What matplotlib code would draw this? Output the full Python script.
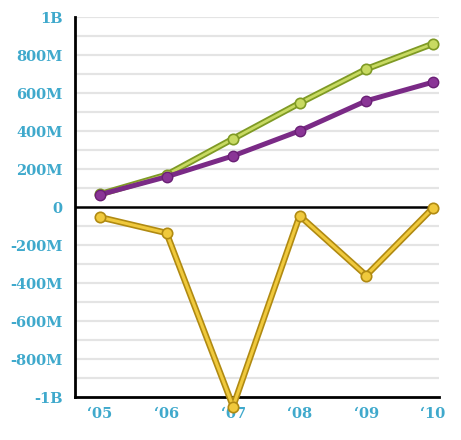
import numpy as np
import matplotlib.pyplot as plt

######### Data (millions) ############
years = [2005, 2006, 2007, 2008, 2009, 2010]
year_labels = ["\u201805", "\u201806", "\u201807", "\u201808", "\u201809", "\u201810"]
green_vals = [68, 170, 360, 548, 727, 860]
purple_vals = [66, 160, 270, 402, 560, 658]
yellow_vals = [-53, -136, -1050, -45, -360, -5]
ytick_vals = [-1000, -800, -600, -400, -200, 0, 200, 400, 600, 800, 1000]
ytick_labels = ["-1B", "-800M", "-600M", "-400M", "-200M", "0",
                "200M", "400M", "600M", "800M", "1B"]
######################################

label_color = "#3fa9cc"

fig = plt.figure(figsize=(4.61, 4.40), dpi=100)
ax = fig.add_axes([0.1627, 0.0977, 0.789, 0.863])
ax.set_xlim(2004.625, 2010.09)
ax.set_ylim(-1000, 1000)

# light gridlines every 100M
for v in np.arange(-900, 1001, 100):
    if v == 0:
        continue
    ax.axhline(v, color="#e4e4e4", lw=1.6, zorder=0)
ax.axhline(0, color="black", lw=1.8, zorder=1)

# green: dark outline with light core
ax.plot(years, green_vals, color="#7f9a25", lw=4.6, solid_capstyle="round", zorder=3)
ax.plot(years, green_vals, color="#c8da62", lw=2.0, zorder=4,
        marker="o", ms=7.5, mfc="#c8da62", mec="#7f9a25", mew=1.2)

# purple
ax.plot(years, purple_vals, color="#7a2a86", lw=3.6, zorder=5,
        marker="o", ms=7.5, mfc="#8a3596", mec="#6a2075", mew=1)

# yellow
ax.plot(years, yellow_vals, color="#b08a12", lw=4.6, zorder=3, clip_on=False)
ax.plot(years, yellow_vals, color="#f0c93c", lw=2.2, zorder=4, clip_on=False,
        marker="o", ms=7.5, mfc="#f0c93c", mec="#b08a12", mew=1.2)

for side in ["top", "right"]:
    ax.spines[side].set_visible(False)
ax.spines["left"].set_linewidth(2)
ax.spines["bottom"].set_linewidth(2)

ax.set_xticks(years)
ax.set_xticklabels(year_labels)
ax.set_yticks(ytick_vals)
ax.set_yticklabels(ytick_labels)
ax.tick_params(axis="y", length=0, pad=9, labelcolor=label_color)
ax.tick_params(axis="x", length=0, pad=7, labelcolor=label_color)
for lab in ax.get_xticklabels() + ax.get_yticklabels():
    lab.set_fontfamily("DejaVu Serif")
    lab.set_fontweight("bold")
    lab.set_fontsize(10.5)

plt.savefig("out.png", dpi=100)
